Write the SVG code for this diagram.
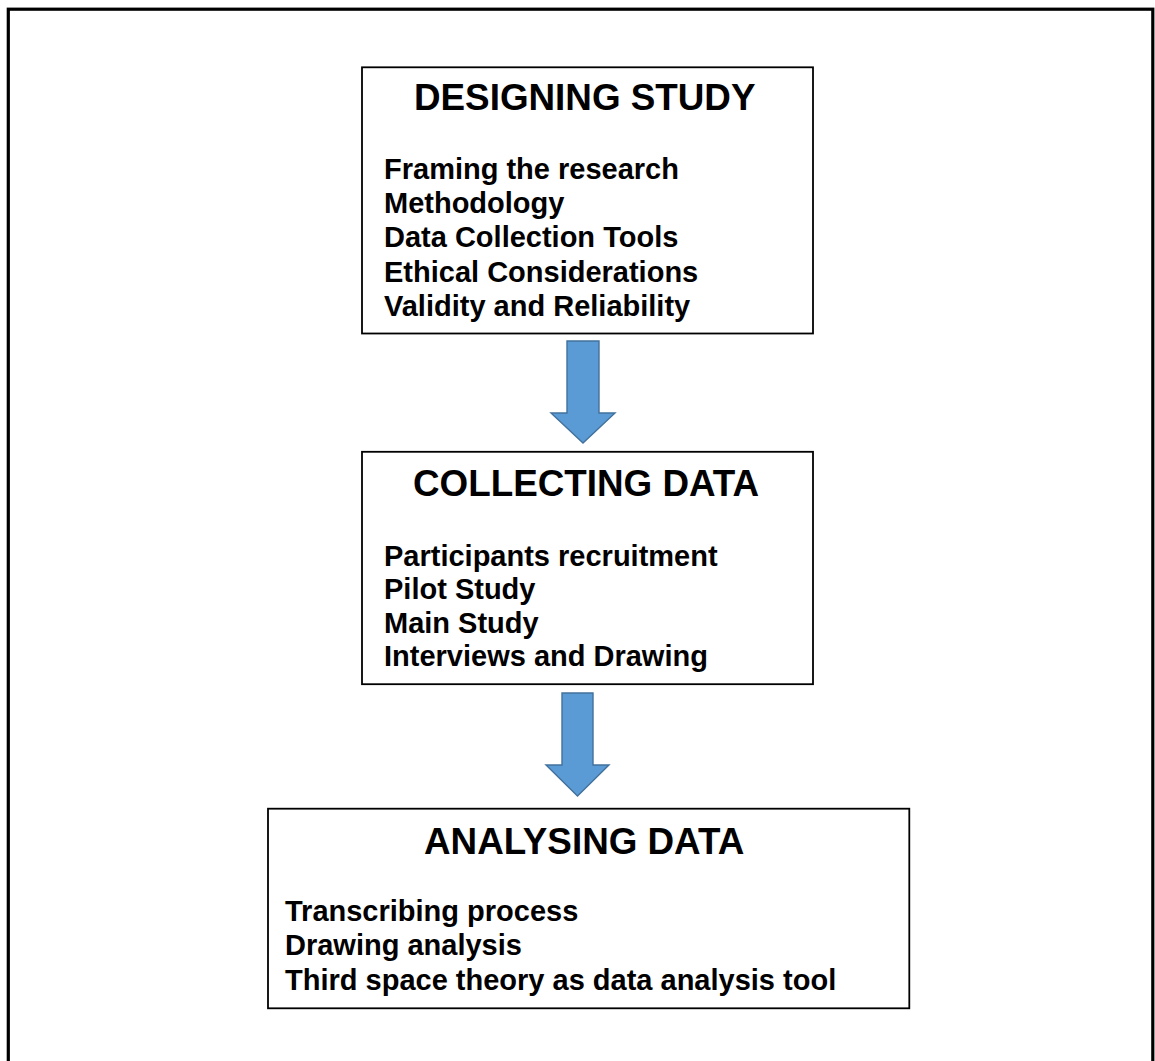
<svg xmlns="http://www.w3.org/2000/svg" width="1155" height="1061" viewBox="0 0 1155 1061">
<style>
.box{fill:#fff;stroke:#000;stroke-width:1.8}
.frame{fill:none;stroke:#000;stroke-width:3.2}
.arrow{fill:#5B9BD5;stroke:#41719C;stroke-width:1.4;stroke-linejoin:miter}
.title{font-family:"Liberation Sans",Arial,sans-serif;font-weight:bold;font-size:36.8px;fill:#000}
.body{font-family:"Liberation Sans",Arial,sans-serif;font-weight:bold;font-size:29px;fill:#000}
</style>
<rect width="1155" height="1061" fill="#fff"/>
<rect class="frame" x="8.3" y="9.2" width="1144.5" height="1065"/>
<g id="connectors">
<path id="arrow1" class="arrow" d="M567,341 H599 V413 H615 L583,443 L551,413 H567 Z"/>
<path id="arrow2" class="arrow" d="M562,693 H593 V765 H609 L577.5,796 L546,765 H562 Z"/>
</g>
<g id="designing-study">
<rect class="box" x="362" y="67.3" width="451" height="266.2"/>
<text class="title" x="414" y="109.5">DESIGNING STUDY</text>
<text class="body" x="384" y="179">Framing the research</text>
<text class="body" x="384" y="213.2">Methodology</text>
<text class="body" x="384" y="247.4">Data Collection Tools</text>
<text class="body" x="384" y="281.6">Ethical Considerations</text>
<text class="body" x="384" y="315.8">Validity and Reliability</text>
</g>
<g id="collecting-data">
<rect class="box" x="362" y="451.8" width="451" height="232.4"/>
<text class="title" x="413" y="496">COLLECTING DATA</text>
<text class="body" x="384" y="565.5">Participants recruitment</text>
<text class="body" x="384" y="599">Pilot Study</text>
<text class="body" x="384" y="632.5">Main Study</text>
<text class="body" x="384" y="666">Interviews and Drawing</text>
</g>
<g id="analysing-data">
<rect class="box" x="268" y="808.7" width="641.3" height="199.6"/>
<text class="title" x="424" y="854">ANALYSING DATA</text>
<text class="body" x="285" y="920.5">Transcribing process</text>
<text class="body" x="285" y="955">Drawing analysis</text>
<text class="body" x="285" y="989.5">Third space theory as data analysis tool</text>
</g>
</svg>
